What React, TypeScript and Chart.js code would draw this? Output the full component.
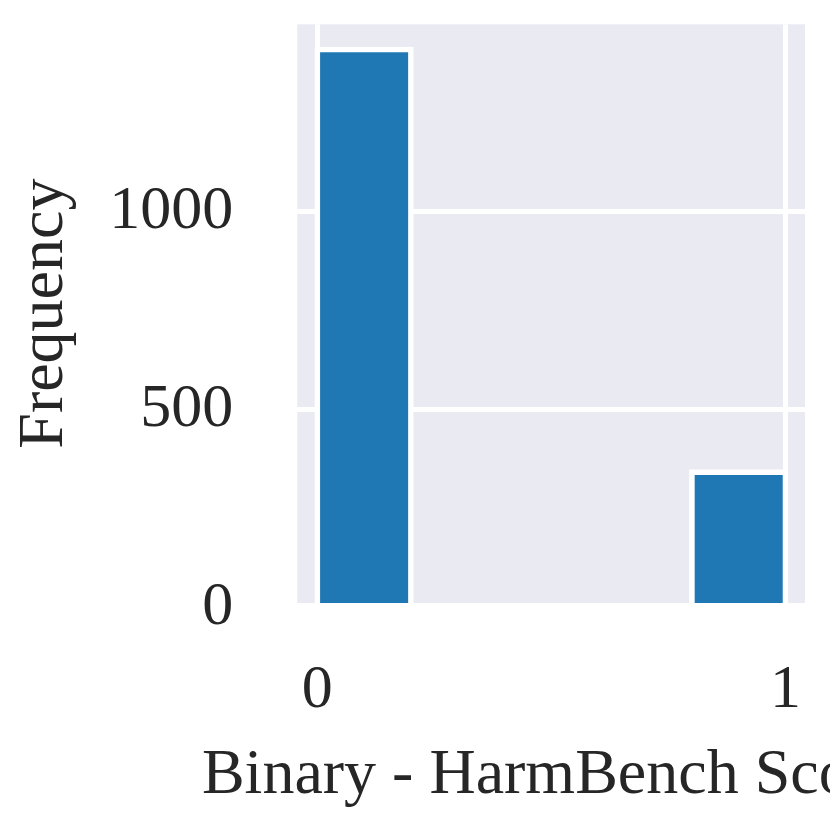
import React, { useEffect, useRef } from "react";
import { Chart, registerables } from "chart.js";

Chart.register(...registerables);

// Histogram bins (left edges) and counts
const binStarts = [0, 0.2, 0.4, 0.6, 0.8];
const binWidth = 0.2;
const counts = [1410, 0, 0, 0, 342];
const xTicks = [0, 1];
const yTicks = [0, 500, 1000];
const xLabel = "Binary - HarmBench Score";
const yLabel = "Frequency";

const FONT_FAMILY = "'Liberation Serif', 'Times New Roman', serif";
const TEXT_COLOR = "#262626";

export default function App() {
  const ref = useRef<HTMLCanvasElement>(null);

  useEffect(() => {
    document.body.style.margin = "0";
    const canvas = ref.current!;
    const font = { family: FONT_FAMILY, size: 62 };
    const labelFont = { family: FONT_FAMILY, size: 64 };

    const bgPlugin = {
      id: "bgPlugin",
      beforeDraw(chart: any) {
        const { ctx, chartArea: a } = chart;
        ctx.save();
        ctx.fillStyle = "#EAEAF2";
        ctx.fillRect(a.left, a.top, a.right - a.left, a.bottom - a.top);
        ctx.restore();
      },
    };

    const xTitlePlugin = {
      id: "xTitlePlugin",
      afterDraw(chart: any) {
        const { ctx, chartArea: a } = chart;
        ctx.save();
        ctx.font = `64px ${FONT_FAMILY}`;
        ctx.fillStyle = TEXT_COLOR;
        ctx.textAlign = "center";
        ctx.textBaseline = "alphabetic";
        ctx.fillText(xLabel, (a.left + a.right) / 2, a.bottom + 190);
        ctx.restore();
      },
    };

    const chart = new Chart(canvas, {
      type: "bar",
      data: {
        datasets: [
          {
            data: binStarts.map((s, i) => ({
              x: s + binWidth / 2,
              y: counts[i] > 0 ? counts[i] : null,
            })),
            backgroundColor: "#1f77b4",
            borderColor: "#ffffff",
            borderWidth: 5.6,
            borderSkipped: "start",
            inflateAmount: 2.8,
            barPercentage: 1,
            categoryPercentage: 1,
          } as any,
        ],
      },
      options: {
        animation: false,
        responsive: false,
        layout: { padding: { top: 24.3, right: 25, left: 0, bottom: 0 } },
        plugins: {
          legend: { display: false },
          tooltip: { enabled: false },
        },
        scales: {
          x: {
            type: "linear",
            offset: false,
            min: -0.0427,
            max: 1.0416,
            afterBuildTicks: (s: any) => {
              s.ticks = xTicks.map((v) => ({ value: v }));
            },
            afterFit: (s: any) => {
              s.height = 227;
              s.paddingLeft = 0;
              s.paddingRight = 0;
              s.paddingTop = 0;
              s.paddingBottom = 0;
            },
            grid: { color: "#ffffff", lineWidth: 5, drawTicks: false, offset: false },
            border: { display: false },
            ticks: {
              font,
              color: TEXT_COLOR,
              padding: 51,
              maxRotation: 0,
              callback: (v: any) => String(v),
            },
          },
          y: {
            type: "linear",
            min: 11.4,
            max: 1473.5,
            afterBuildTicks: (s: any) => {
              s.ticks = yTicks.map((v) => ({ value: v }));
            },
            afterFit: (s: any) => {
              s.width = 297.3;
              s.paddingLeft = 0;
              s.paddingRight = 0;
              s.paddingTop = 0;
              s.paddingBottom = 0;
            },
            grid: {
              color: (c: any) =>
                c.tick && c.tick.value === 0 ? "rgba(0,0,0,0)" : "#ffffff",
              lineWidth: 5,
              drawTicks: false,
            },
            border: { display: false },
            ticks: {
              font,
              color: TEXT_COLOR,
              padding: 64,
              callback: (v: any) => String(v),
            },
            title: {
              display: true,
              text: yLabel,
              font: labelFont,
              color: TEXT_COLOR,
              padding: { top: 7, bottom: 0 },
            },
          },
        },
      },
      plugins: [bgPlugin, xTitlePlugin],
    });

    return () => chart.destroy();
  }, []);

  return (
    <canvas
      ref={ref}
      width={830}
      height={830}
      style={{ display: "block", width: 830, height: 830 }}
    />
  );
}
